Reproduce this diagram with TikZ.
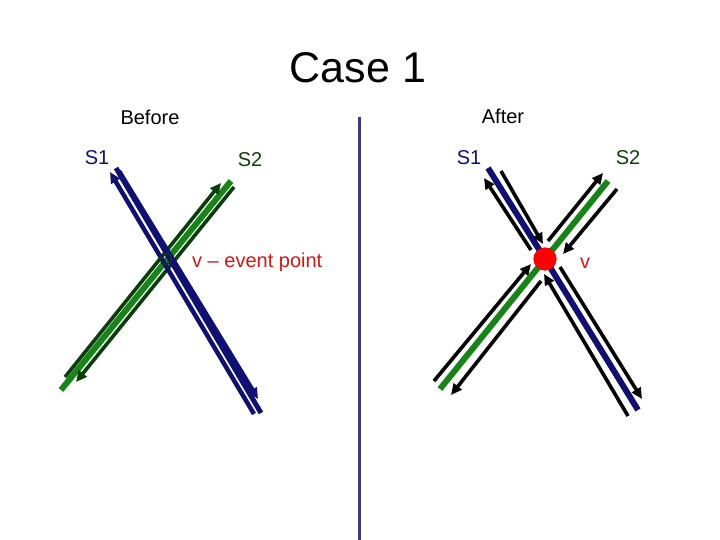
\documentclass[tikz,border=0pt]{standalone}
\usepackage{fontspec}
\setmainfont{Liberation Sans}
\usetikzlibrary{arrows.meta}
\definecolor{segnavy}{RGB}{16,16,112}
\definecolor{seggreen}{RGB}{22,132,22}
\definecolor{arrgreen}{RGB}{12,62,12}
\definecolor{divblue}{RGB}{58,58,122}
\definecolor{evred}{RGB}{204,24,24}
\tikzset{
	seg/.style={line width=6pt},
	half/.style={line width=3.6pt, -{Triangle[length=11pt,width=10pt]}},
	lbl/.style={font=\fontsize{20}{22}\selectfont, inner sep=0pt}
}

\begin{document}
\begin{tikzpicture}[x=1pt, y=-1pt]
		%%%%% START %%%%%
		\useasboundingbox (0,0) rectangle (720,540);
		
		\node[font=\fontsize{43}{46}\selectfont, inner sep=0pt] (title) at (358,68) {Case 1};
		\node[lbl] (before) at (150,117) {Before};
		\node[lbl] (after) at (503,116) {After};
		
		% divider
		\coordinate (divtop) at (359,117);
		\coordinate (divbot) at (359,540);
		\draw[line width=3pt, color=divblue] (divtop) -- (divbot);
		
		%%%%% BEFORE %%%%%
		\coordinate (bs1a) at (116,168);
		\coordinate (bs1b) at (261,413);
		\coordinate (bs2a) at (61,390);
		\coordinate (bs2b) at (231,181);
		
		\draw[seg, color=seggreen] (bs2a) -- (bs2b);
		\coordinate (bg1a) at (65,377);
		\coordinate (bg1b) at (221,183);
		\coordinate (bg2a) at (234,187);
		\coordinate (bg2b) at (76,382);
		\draw[half, color=arrgreen] (bg1a) -- (bg1b);
		\draw[half, color=arrgreen] (bg2a) -- (bg2b);
		
		\draw[seg, line width=5pt, color=segnavy] (bs1a) -- (bs1b);
		\coordinate (bn1a) at (254,414);
		\coordinate (bn1b) at (110,172);
		\coordinate (bn2a) at (119,171);
		\coordinate (bn2b) at (258,399);
		\draw[half, line width=4.5pt, color=segnavy] (bn1a) -- (bn1b);
		\draw[half, line width=4.5pt, color=segnavy] (bn2a) -- (bn2b);
		
		\node[draw=arrgreen!70!segnavy, line width=2pt, circle, minimum size=11pt, inner sep=0pt] (bev) at (166,259) {};
		
		\node[lbl, color=segnavy] (bs1) at (97,158) {S1};
		\node[lbl, color=arrgreen] (bs2) at (250,160) {S2};
		\node[lbl, color=evred, anchor=west] (bevl) at (192,262) {v -- event point};
		
		%%%%% AFTER %%%%%
		\node[circle, fill=red, minimum size=23pt, inner sep=0pt] (v) at (545,259) {};
		\coordinate (as1a) at (488,168);
		\coordinate (as1b) at (638,410);
		\coordinate (as2a) at (440,389);
		\coordinate (as2b) at (608,181);
		\draw[seg, color=segnavy] (as1a) -- (v.center) -- (as1b);
		\draw[seg, color=seggreen] (as2a) -- (v.center) -- (as2b);
		\node[circle, fill=red, minimum size=23pt, inner sep=0pt] at (v) {};
		
		% halves of S1
		\coordinate (h1a) at (531,250);
		\coordinate (h1b) at (484,178);
		\coordinate (h2a) at (501,171);
		\coordinate (h2b) at (543,244);
		\coordinate (h3a) at (628,416);
		\coordinate (h3b) at (544,274);
		\coordinate (h4a) at (560,267);
		\coordinate (h4b) at (642,399);
		\draw[half, color=black] (h1a) -- (h1b);
		\draw[half, color=black] (h2a) -- (h2b);
		\draw[half, color=black] (h3a) -- (h3b);
		\draw[half, color=black] (h4a) -- (h4b);
		
		% halves of S2
		\coordinate (h5a) at (548,241);
		\coordinate (h5b) at (603,173);
		\coordinate (h6a) at (617,189);
		\coordinate (h6b) at (563,254);
		\coordinate (h7a) at (434,381);
		\coordinate (h7b) at (531,264);
		\coordinate (h8a) at (541,281);
		\coordinate (h8b) at (451,395);
		\draw[half, color=black] (h5a) -- (h5b);
		\draw[half, color=black] (h6a) -- (h6b);
		\draw[half, color=black] (h7a) -- (h7b);
		\draw[half, color=black] (h8a) -- (h8b);
		
		\node[lbl, color=segnavy] (as1) at (469,158) {S1};
		\node[lbl, color=arrgreen] (as2) at (628,158) {S2};
		\node[lbl, color=evred] (vl) at (585,263) {v};
		
		%%%%% END %%%%%
	\end{tikzpicture}
\end{document}
